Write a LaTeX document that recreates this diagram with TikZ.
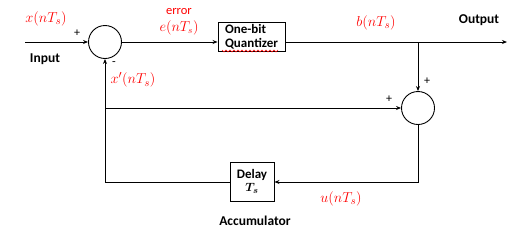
\documentclass[tikz,border=0pt]{standalone}
\usepackage{amsmath,amssymb,bm}
\usepackage{fontspec}
\setmainfont{Carlito}
\usetikzlibrary{arrows.meta}
\begin{document}
\begin{tikzpicture}[x=1pt,y=-1pt,
  line width=0.9pt,
  arr/.style={-{Stealth[length=5pt,width=4pt]}},
  sumnode/.style={circle,draw,minimum size=33pt,inner sep=0pt},
  blk/.style={draw,inner sep=0pt,font=\fontsize{13}{14}\selectfont\bfseries,align=left},
  lbl/.style={font=\fontsize{13.5}{15}\selectfont\bfseries},
  rl/.style={text=red,font=\fontsize{15}{16}\selectfont},
  sg/.style={font=\fontsize{12}{13}\selectfont}]
\useasboundingbox (0,0) rectangle (522,234);
\node[sumnode] (s1) at (105,42) {};
\node[sumnode] (s2) at (418,108) {};
\node[blk,minimum width=67pt,minimum height=29pt] (q) at (251.5,36.5) {One-bit\\Quantizer};
\node[blk,minimum width=44pt,minimum height=39pt,align=center] (d) at (252,181.5) {Delay\\[-1pt]$\bm{T_s}$};
\coordinate (in) at (25,42);
\coordinate (out) at (507,42);
\coordinate (br) at (418,42);
\coordinate (fb) at (105,108);
\coordinate (c1) at (418,182);
\coordinate (c2) at (105,182);
\draw[arr] (in) -- (s1.west);
\draw[arr] (s1.east) -- (s1.east -| q.west);
\draw[arr] (q.east |- out) -- (out);
\draw[arr] (br) -- (s2.north);
\draw[arr] (fb) -- (s2.west);
\draw[arr] (s2.south) -- (c1) -- (d.east |- c1);
\draw[arr] (d.west |- c2) -- (c2) -- (s1.south);
% wavy underline
\draw[red,line width=0.4pt] (222,50) -- (224,52) -- (226,50) -- (228,52) -- (230,50) -- (232,52) -- (234,50) -- (236,52) -- (238,50) -- (240,52) -- (242,50) -- (244,52) -- (246,50) -- (248,52) -- (250,50) -- (252,52) -- (254,50) -- (256,52) -- (258,50) -- (260,52) -- (262,50) -- (264,52) -- (266,50) -- (268,52) -- (270,50) -- (272,52) -- (274,50) -- (276,52) -- (278,50);
\node[rl] (lx) at (46,19) {$x(nT_s)$};
\node[sg] (p1) at (77,33) {+};
\node[lbl] (lin) at (45,59) {Input};
\node[text=red,font=\fontsize{12.5}{13}\selectfont] (lerr) at (179,12) {error};
\node[rl,font=\fontsize{13.5}{15}\selectfont] (le) at (179,28) {$e(nT_s)$};
\node[sg] (m1) at (114,64) {-};
\node[rl] (lxp) at (133,80) {$x'(nT_s)$};
\node[rl] (lb) at (376,23) {$b(nT_s)$};
\node[lbl] (lout) at (479,20) {Output};
\node[sg] (p2) at (427,81) {+};
\node[sg] (p3) at (389,99) {+};
\node[rl] (lu) at (341,199) {$u(nT_s)$};
\node[lbl] (lacc) at (255,221) {Accumulator};
\end{tikzpicture}
\end{document}
